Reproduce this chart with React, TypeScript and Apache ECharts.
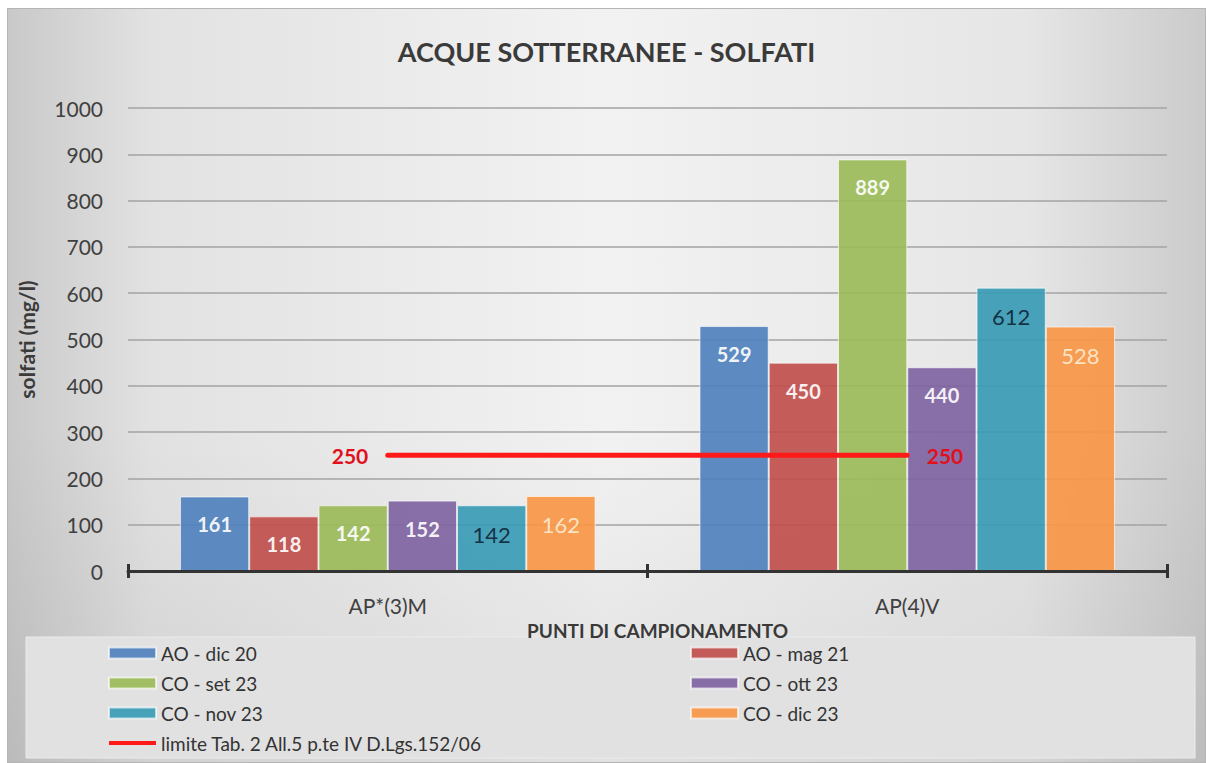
import React, { useEffect, useRef } from "react";
import * as echarts from "echarts";

const categories = ["AP*(3)M", "AP(4)V"];
const aoDic20 = [161, 529];
const aoMag21 = [118, 450];
const coSet23 = [142, 889];
const coOtt23 = [152, 440];
const coNov23 = [142, 612];
const coDic23 = [162, 528];
const limitValues = [250, 250];
const limitName = "limite Tab. 2 All.5 p.te IV D.Lgs.152/06";
const yMin = 0;
const yMax = 1000;
const yInterval = 100;

const FONT = "Lato, 'Open Sans', sans-serif";

export default function App() {
  const ref = useRef<HTMLDivElement | null>(null);

  useEffect(() => {
    if (!ref.current) return;
    const chart = echarts.init(ref.current, undefined, { renderer: "svg" });

    const whiteBold = { color: "#ffffff", fontWeight: "bold", fontSize: 20 };
    const barSeries = (
      name: string,
      data: number[],
      color: string,
      lbl: any
    ) => ({
      name,
      type: "bar",
      data,
      barGap: "0%",
      barCategoryGap: "20%",
      itemStyle: { color, opacity: 0.92, borderColor: "rgba(255,255,255,0.7)", borderWidth: 1 },
      label: {
        show: true,
        position: "insideTop",
        distance: 18,
        fontFamily: FONT,
        ...lbl,
      },
      z: 2,
    });

    const legendText = { fontFamily: FONT, fontSize: 19, color: "#333", lineHeight: 20 };
    const lineIcon = "path://M0,0L47,0L47,4L0,4Z";

    chart.setOption({
      animation: false,
      textStyle: { fontFamily: FONT },
      title: {
        text: "ACQUE SOTTERRANEE - SOLFATI",
        left: "center",
        top: 24,
        textStyle: { fontFamily: FONT, fontSize: 27, fontWeight: "bold", color: "#3a3a3a" },
      },
      graphic: [
        {
          type: "rect",
          z: -10,
          shape: { x: 18, y: 628, width: 1169, height: 121 },
          style: { fill: "#e1e1e1", stroke: "#ebebeb", lineWidth: 1 },
        },
      ],
      legend: [
        {
          orient: "vertical",
          left: 100,
          top: 634,
          padding: 0,
          itemWidth: 47,
          itemHeight: 11,
          itemGap: 10,
          height: 120,
          textStyle: legendText,
          data: [
            { name: "AO - dic 20", icon: "rect" },
            { name: "CO - set 23", icon: "rect" },
            { name: "CO - nov 23", icon: "rect" },
            { name: limitName, icon: lineIcon },
          ],
        },
        {
          orient: "vertical",
          left: 682,
          top: 634,
          padding: 0,
          itemWidth: 47,
          itemHeight: 11,
          itemGap: 10,
          height: 120,
          textStyle: legendText,
          data: [
            { name: "AO - mag 21", icon: "rect" },
            { name: "CO - ott 23", icon: "rect" },
            { name: "CO - dic 23", icon: "rect" },
          ],
        },
      ],
      grid: { left: 120, right: 38, top: 99, bottom: 191, containLabel: false },
      xAxis: [
        {
          type: "category",
          data: categories,
          name: "PUNTI DI CAMPIONAMENTO",
          nameLocation: "middle",
          nameGap: 48,
          nameTextStyle: {
            fontFamily: FONT,
            fontSize: 19,
            fontWeight: "bold",
            color: "#3a3a3a",
            padding: [0, 0, 0, 20],
          },
          axisLine: { lineStyle: { color: "#333", width: 3 } },
          axisTick: { show: true, length: 7, lineStyle: { color: "#333", width: 3 } },
          axisLabel: { fontFamily: FONT, fontSize: 21, color: "#404040", margin: 24 },
          z: 3,
        },
        {
          type: "category",
          data: categories,
          position: "bottom",
          axisLine: { show: false },
          axisTick: { show: true, inside: true, length: 7, lineStyle: { color: "#333", width: 3 } },
          axisLabel: { show: false },
          z: 3,
        },
      ],
      yAxis: {
        type: "value",
        min: yMin,
        max: yMax,
        interval: yInterval,
        name: "solfati (mg/l)",
        nameLocation: "middle",
        nameGap: 91,
        nameTextStyle: { fontFamily: FONT, fontSize: 21, fontWeight: "bold", color: "#3a3a3a" },
        axisLine: { show: false },
        axisTick: { show: false },
        axisLabel: {
          fontFamily: FONT,
          fontSize: 21,
          color: "#404040",
          margin: 25,
          formatter: (v: number) => String(v),
        },
        splitLine: { lineStyle: { color: "#a3a3a3", width: 1.6 } },
      },
      series: [
        barSeries("AO - dic 20", aoDic20, "#4f81bd", whiteBold),
        barSeries("AO - mag 21", aoMag21, "#c0504d", whiteBold),
        barSeries("CO - set 23", coSet23, "#9bbb59", whiteBold),
        barSeries("CO - ott 23", coOtt23, "#8064a2", whiteBold),
        barSeries("CO - nov 23", coNov23, "#3a9bb5", { color: "#10263a", fontSize: 22 }),
        barSeries("CO - dic 23", coDic23, "#f79646", { color: "#fdebd0", fontSize: 22 }),
        {
          name: limitName,
          type: "line",
          data: limitValues.map((v, i) => ({
            value: v,
            label: { position: i === 0 ? "left" : "right", distance: 19 },
          })),
          symbol: "circle",
          symbolSize: 1,
          itemStyle: { color: "#ff1a1a" },
          lineStyle: { color: "#ff1a1a", width: 5, cap: "round" },
          label: {
            show: true,
            fontFamily: FONT,
            fontSize: 21,
            fontWeight: "bold",
            color: "#e0101c",
          },
          z: 5,
        },
      ],
    });

    return () => chart.dispose();
  }, []);

  return (
    <div
      ref={ref}
      style={{
        position: "fixed",
        left: 7,
        top: 8,
        width: 1199,
        height: 755,
        boxSizing: "border-box",
        border: "1px solid #b5b5b5",
        background:
          "linear-gradient(to bottom, rgba(0,0,0,0) 55%, rgba(0,0,0,0.07) 100%), linear-gradient(to right, #c9c9c9 0%, #e2e2e2 12%, #f2f2f2 50%, #e6e6e6 85%, #cbcbcb 100%)",
      }}
    />
  );
}
